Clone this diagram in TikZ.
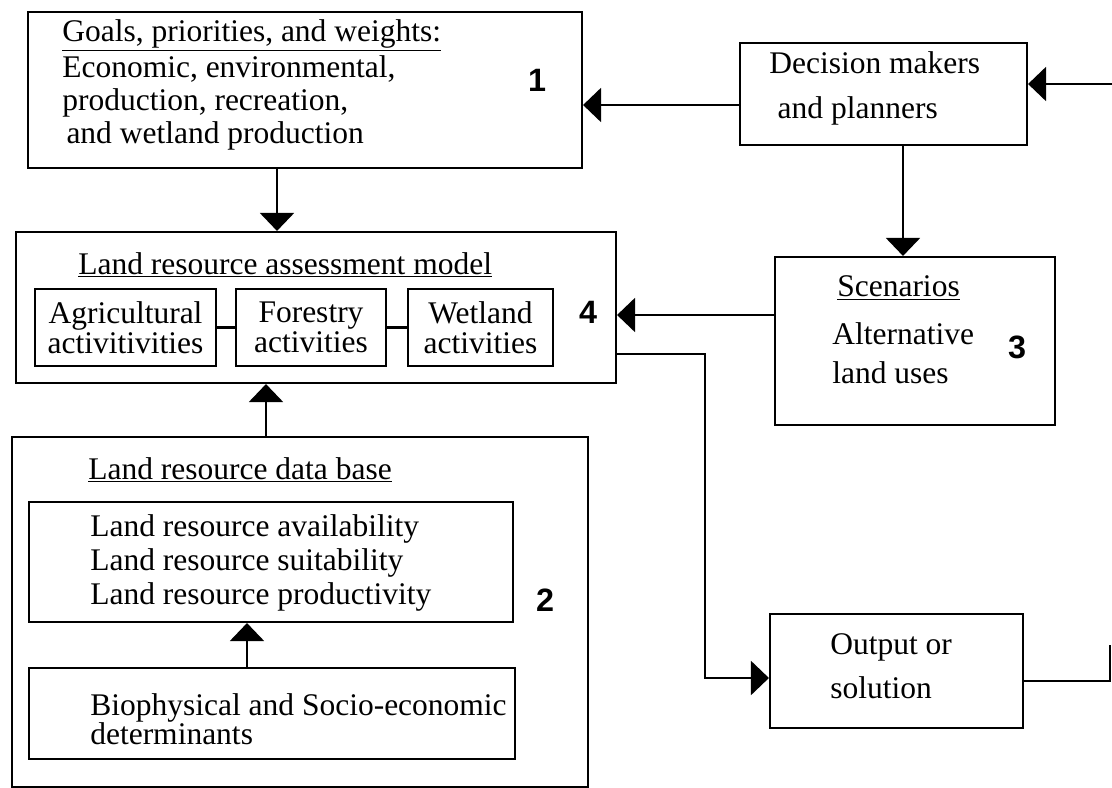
\documentclass[tikz,border=0pt]{standalone}
\usepackage{fontspec}
\setmainfont{Liberation Serif}
\newfontfamily\numfont{Liberation Sans}
\usetikzlibrary{arrows.meta,fit}
\tikzset{
  box/.style={draw, line width=1.5pt, inner sep=0pt},
  arr/.style={line width=1.5pt, -{Triangle[length=0.45cm,width=0.85cm]}},
  link/.style={line width=1.5pt},
  txt/.style={inner sep=0pt, anchor=west, align=left},
  act/.style={inner sep=0pt, align=center, font=\fontsize{22.4}{21}\selectfont},
  num/.style={inner sep=0pt, font=\numfont\bfseries\fontsize{23}{23}\selectfont}
}

\begin{document}
\begin{tikzpicture}[x=0.025cm, y=-0.025cm, font=\fontsize{22.4}{23}\selectfont]
\useasboundingbox (0,0) rectangle (1112,788);
% boxes
\node[box, fit={(28,12) (582,168)}] (goals) {};
\node[box, fit={(740,43) (1027,145)}] (decision) {};
\node[box, fit={(775,257) (1055,425)}] (scen) {};
\node[box, fit={(16,232) (616,383)}] (lram) {};
\node[box, fit={(35,289) (216,366)}] (agri) {};
\node[box, fit={(236,289) (386,366)}] (forest) {};
\node[box, fit={(408,289) (553,366)}] (wet) {};
\node[box, fit={(12,437) (588,787)}] (db) {};
\node[box, fit={(29,502) (513,622)}] (avail) {};
\node[box, fit={(29,668) (515,759)}] (bio) {};
\node[box, fit={(770,614) (1023,728)}] (out) {};

% texts
\node[txt] (goalsT) at (62,35) {\underline{Goals, priorities, and weights:}};
\node[txt, font=\fontsize{22.4}{23.6}\selectfont] (goalsB) at (62,103)
  {Economic, environmental,\\production, recreation,\\\hspace*{3pt}and wetland production};
\node[txt, font=\fontsize{22.4}{32}\selectfont] (decT) at (769,88)
  {Decision makers\\\hspace*{6pt}and planners};
\node[txt] (scenT) at (837,288) {\underline{Scenarios}};
\node[txt, font=\fontsize{22.4}{27.7}\selectfont] (scenB) at (832,353)
  {Alternative\\land uses};
\node[txt] (lramT) at (78,265) {\underline{Land resource assessment model}};
\node[act] (agriT) at (agri) {Agricultural\\activitivities};
\node[act] (forestT) at (forest) {Forestry\\activities};
\node[act] (wetT) at (wet) {Wetland\\activities};
\node[txt] (dbT) at (88,470) {\underline{Land resource data base}};
\node[txt, font=\fontsize{22.4}{24.3}\selectfont] (availT) at (90,563)
  {Land resource availability\\Land resource suitability\\Land resource productivity};
\node[txt, font=\fontsize{22.4}{21}\selectfont] (bioT) at (90,719)
  {Biophysical and Socio-economic\\determinants};
\node[txt, font=\fontsize{22.4}{31.3}\selectfont] (outT) at (830,666)
  {Output or\\solution};

% numbers
\node[num] (n1) at (537,80) {1};
\node[num] (n2) at (545,600) {2};
\node[num] (n3) at (1017,347) {3};
\node[num] (n4) at (588,312) {4};

% connectors
\coordinate (fbT) at (1112,84);
\coordinate (fbR) at (1110,681);
\draw[arr] (fbT) -- (fbT -| decision.east);
\draw[arr] (decision.west) ++(0,11) coordinate (dg) -- (dg -| goals.east);
\draw[arr] (decision.south) ++(19.5,0) coordinate (ds) -- (ds |- scen.north);
\draw[arr] (scen.west) ++(0,-26) coordinate (sl) -- (sl -| lram.east);
\draw[arr] (goals.south) ++(-28,0) coordinate (gl) -- (gl |- lram.north);
\draw[arr] (db.north) ++(-34,0) coordinate (dl) -- (dl |- lram.south);
\draw[arr] (bio.north) ++(-25,0) coordinate (ba) -- (ba |- avail.south);
\draw[link] (agri) -- (forest);
\draw[link] (forest) -- (wet);
\path (out.west) ++(0,7) coordinate (oin);
\draw[arr] (lram.east) ++(0,46.5) -- ++(88,0) |- (oin);
\draw[link] (out.east) ++(0,10) -- (fbR) -- ++(0,-36);
\end{tikzpicture}
\end{document}
